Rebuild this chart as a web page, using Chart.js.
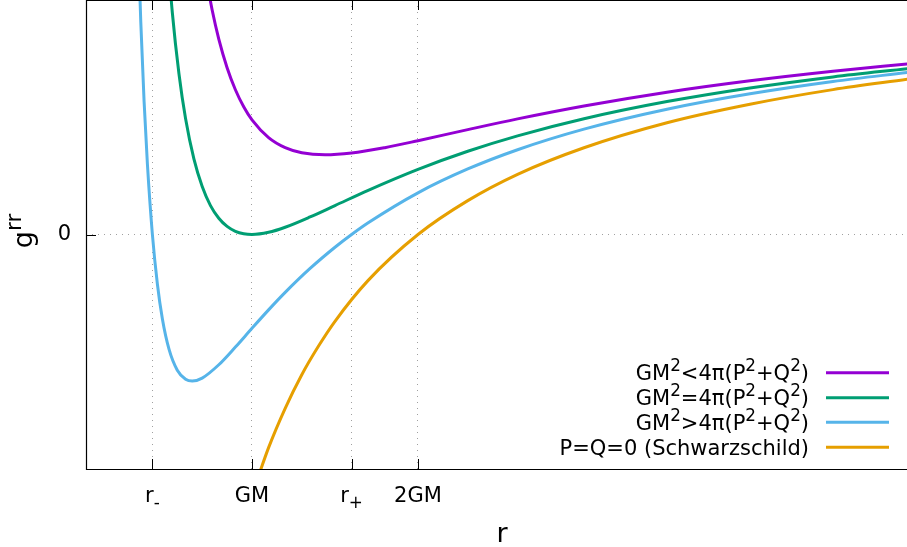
<!DOCTYPE html>
<html><head><meta charset="utf-8">
<script src="https://cdn.jsdelivr.net/npm/chart.js@4/dist/chart.umd.min.js"></script>
<style>html,body{margin:0;padding:0;background:#fff;overflow:hidden}</style>
</head><body>
<canvas id="c" width="907" height="547"></canvas>
<script>
// ---- data (r in units of GM, g^rr values) ----
const xTickValues = [0.4, 1.0, 1.6, 2.0];
const xTickLabels = ['r₋', 'GM', 'r₊', '2GM'];
const yTickValues = [0];
const yTickLabels = ['0'];

const seriesNames = ['GM²<4π(P²+Q²)', 'GM²=4π(P²+Q²)', 'GM²>4π(P²+Q²)', 'P=Q=0 (Schwarzschild)'];
const seriesColors = ['#9400d3', '#009e73', '#56b4e9', '#e69f00'];

const rLess = [0.72, 0.76, 0.8, 0.85, 0.9, 0.95, 1.0, 1.1, 1.2, 1.3, 1.44, 1.6, 1.8, 2.0, 2.3, 2.6, 3.0, 3.5, 4.0, 4.5, 4.95];
const gLess = [1.0, 0.8615, 0.75, 0.6402, 0.5556, 0.4903, 0.44, 0.3719, 0.3333, 0.3136, 0.3056, 0.3125, 0.3333, 0.36, 0.4026, 0.4438, 0.4933, 0.5462, 0.59, 0.6267, 0.6548];

const rEqual = [0.48, 0.52, 0.56, 0.6, 0.65, 0.7, 0.75, 0.8, 0.85, 0.9, 0.95, 1.0, 1.1, 1.2, 1.35, 1.5, 1.7, 2.0, 2.3, 2.6, 3.0, 3.5, 4.0, 4.5, 4.95];
const gEqual = [1.174, 0.852, 0.617, 0.444, 0.290, 0.184, 0.111, 0.0625, 0.0311, 0.0123, 0.0028, 0, 0.0083, 0.0278, 0.0672, 0.111, 0.1696, 0.25, 0.3195, 0.3787, 0.4444, 0.5102, 0.5625, 0.6049, 0.6368];

const rGreater = [0.31, 0.33, 0.35, 0.37, 0.4, 0.43, 0.46, 0.5, 0.55, 0.6, 0.64, 0.7, 0.8, 0.9, 1.0, 1.1, 1.2, 1.35, 1.5, 1.6, 1.7, 2.0, 2.3, 2.6, 3.0, 3.5, 4.0, 4.5, 4.95];
const gGreater = [1.208, 0.816, 0.510, 0.2696, 0, -0.1899, -0.3232, -0.44, -0.5207, -0.5556, -0.5625, -0.551, -0.5, -0.4321, -0.36, -0.2893, -0.2222, -0.1303, -0.0489, 0, 0.045, 0.16, 0.2514, 0.3254, 0.4044, 0.4808, 0.54, 0.5872, 0.6221];

const rSchw = [1.0, 1.1, 1.2, 1.3, 1.4, 1.5, 1.7, 2.0, 2.3, 2.6, 3.0, 3.5, 4.0, 4.5, 4.95];
const gSchw = [-1.0, -0.818, -0.667, -0.538, -0.429, -0.333, -0.176, 0, 0.130, 0.231, 0.333, 0.429, 0.5, 0.556, 0.596];

// rich-text versions of the labels (superscripts / subscripts)
const legendSegments = [
  [{t:'GM'},{t:'2',sup:true},{t:'<4π(P'},{t:'2',sup:true},{t:'+Q'},{t:'2',sup:true},{t:')'}],
  [{t:'GM'},{t:'2',sup:true},{t:'=4π(P'},{t:'2',sup:true},{t:'+Q'},{t:'2',sup:true},{t:')'}],
  [{t:'GM'},{t:'2',sup:true},{t:'>4π(P'},{t:'2',sup:true},{t:'+Q'},{t:'2',sup:true},{t:')'}],
  [{t:'P=Q=0 (Schwarzschild)'}]
];
const xTickSegments = [
  [{t:'r'},{t:'-',sub:true}],
  [{t:'GM'}],
  [{t:'r'},{t:'+',sub:true}],
  [{t:'2GM'}]
];

const FONT = '"DejaVu Sans", "Liberation Sans", sans-serif';
Chart.defaults.font.family = FONT;

function zip(xs, ys) { return xs.map((x, i) => ({x: x, y: ys[i]})); }

function drawRich(ctx, segs, x, y, size, align) {
  let total = 0;
  const parts = segs.map(s => {
    const fs = (s.sup || s.sub) ? size * 0.8 : size;
    ctx.font = fs + 'px ' + FONT;
    const w = ctx.measureText(s.t).width;
    total += w;
    return {s, fs, w};
  });
  let cx = align === 'right' ? x - total : (align === 'center' ? x - total / 2 : x);
  ctx.textAlign = 'left';
  ctx.textBaseline = 'alphabetic';
  for (const p of parts) {
    ctx.font = p.fs + 'px ' + FONT;
    const dy = p.s.sup ? -size * 0.42 : (p.s.sub ? size * 0.29 : 0);
    ctx.fillText(p.s.t, cx, y + dy);
    cx += p.w;
  }
  return total;
}

const framePlugin = {
  id: 'frame',
  beforeDatasetsDraw(chart) {
    const ctx = chart.ctx, a = chart.chartArea;
    const xs = chart.scales.x, ys = chart.scales.y;
    ctx.save();
    ctx.strokeStyle = '#000';
    ctx.lineWidth = 1;
    ctx.beginPath();
    xTickValues.forEach(v => {
      const px = Math.round(xs.getPixelForValue(v)) + 0.5;
      ctx.moveTo(px, a.bottom); ctx.lineTo(px, a.bottom - 10);
      ctx.moveTo(px, a.top); ctx.lineTo(px, a.top + 10);
    });
    yTickValues.forEach(v => {
      const py = Math.round(ys.getPixelForValue(v)) + 0.5;
      ctx.moveTo(a.left, py); ctx.lineTo(a.left + 10, py);
    });
    ctx.stroke();
    ctx.restore();
  },
  afterDraw(chart) {
    const ctx = chart.ctx, a = chart.chartArea;
    const xs = chart.scales.x;
    ctx.save();
    // border
    ctx.strokeStyle = '#000';
    ctx.lineWidth = 1.2;
    ctx.beginPath();
    ctx.moveTo(a.right, a.top + 0.5); ctx.lineTo(a.left + 0.5, a.top + 0.5);
    ctx.lineTo(a.left + 0.5, a.bottom + 0.5); ctx.lineTo(a.right, a.bottom + 0.5);
    ctx.stroke();
    // x tick labels (positions from the x scale)
    ctx.fillStyle = '#000';
    xTickValues.forEach((v, i) => {
      drawRich(ctx, xTickSegments[i], xs.getPixelForValue(v), a.bottom + 32.5, 21, 'center');
    });
    // legend
    const rows = [372.7, 397.7, 422.3, 447.3];
    legendSegments.forEach((segs, i) => {
      ctx.fillStyle = '#000';
      drawRich(ctx, segs, 809, rows[i] + 7.5, 21, 'right');
      ctx.strokeStyle = seriesColors[i];
      ctx.lineWidth = 3;
      ctx.beginPath();
      ctx.moveTo(826, rows[i]); ctx.lineTo(889, rows[i]);
      ctx.stroke();
    });
    // axis titles
    ctx.fillStyle = '#000';
    ctx.font = '27px ' + FONT;
    ctx.textAlign = 'center';
    ctx.textBaseline = 'alphabetic';
    ctx.fillText('r', 502, 542);
    ctx.translate(32, 231);
    ctx.rotate(-Math.PI / 2);
    drawRich(ctx, [{t:'g'},{t:'rr',sup:true}], 0, 0, 27, 'center');
    ctx.restore();
  }
};

const datasets = [
  {label: seriesNames[0], data: zip(rLess, gLess), borderColor: seriesColors[0]},
  {label: seriesNames[1], data: zip(rEqual, gEqual), borderColor: seriesColors[1]},
  {label: seriesNames[2], data: zip(rGreater, gGreater), borderColor: seriesColors[2]},
  {label: seriesNames[3], data: zip(rSchw, gSchw), borderColor: seriesColors[3]}
].map(d => Object.assign(d, {borderWidth: 3, pointRadius: 0, fill: false, cubicInterpolationMode: 'monotone', clip: 0}));

new Chart(document.getElementById('c'), {
  type: 'line',
  data: {datasets},
  options: {
    responsive: false,
    animation: false,
    events: [],
    layout: {padding: 0},
    plugins: {legend: {display: false}, tooltip: {enabled: false}, title: {display: false}},
    scales: {
      x: {
        type: 'linear', min: 0, max: 4.946,
        afterBuildTicks: s => { s.ticks = xTickValues.map(v => ({value: v})); },
        afterFit: s => { s.height = 78; s.paddingLeft = 0; s.paddingRight = 0; s.paddingTop = 0; s.paddingBottom = 0; },
        ticks: {display: false, autoSkip: false},
        grid: {color: '#a0a0a0', lineWidth: 1, drawTicks: false},
        border: {display: false, dash: [1, 5]}
      },
      y: {
        type: 'linear', min: -0.9, max: 0.9,
        afterBuildTicks: s => { s.ticks = yTickValues.map(v => ({value: v})); },
        afterFit: s => { s.width = 86; s.paddingLeft = 0; s.paddingRight = 0; s.paddingTop = 0; s.paddingBottom = 0; },
        ticks: {
          padding: 15, color: '#000', font: {size: 21, family: FONT},
          callback: v => yTickLabels[yTickValues.indexOf(v)]
        },
        grid: {color: '#a0a0a0', lineWidth: 1, drawTicks: false},
        border: {display: false, dash: [1, 5]}
      }
    }
  },
  plugins: [framePlugin]
});
</script>
</body></html>
